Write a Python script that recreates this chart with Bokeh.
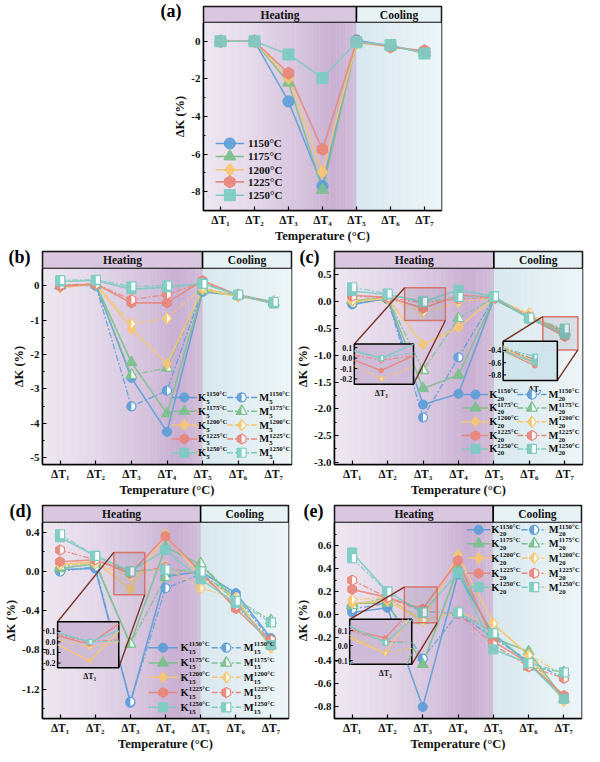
import numpy as np
from bokeh.plotting import figure
from bokeh.models import FixedTicker, Spacer, NumeralTickFormatter, Range1d
from bokeh.layouts import row, column
from bokeh.core.properties import value
from bokeh.embed import file_html
from bokeh.resources import INLINE

FONT = "Liberation Serif"

# ---------------- data ----------------
X = [1, 2, 3, 4, 5, 6, 7]
XLABELS = ["ΔT₁", "ΔT₂", "ΔT₃", "ΔT₄", "ΔT₅", "ΔT₆", "ΔT₇"]
TEMPS = ["1150°C", "1175°C", "1200°C", "1225°C", "1250°C"]

# (a)
a_1150 = [0.0, 0.0, -3.2, -7.7, 0.05, -0.25, -0.6]
a_1175 = [0.0, 0.0, -2.2, -7.9, -0.05, -0.25, -0.6]
a_1200 = [0.0, 0.0, -1.95, -6.95, -0.1, -0.25, -0.58]
a_1225 = [0.0, 0.0, -1.7, -5.75, 0.0, -0.3, -0.5]
a_1250 = [0.0, 0.0, -0.7, -1.95, -0.05, -0.2, -0.65]

# (b)  K5 / M5
b_K1150 = [0.0, 0.02, -2.68, -4.25, -0.18, -0.28, -0.5]
b_K1175 = [0.0, 0.03, -2.23, -3.72, -0.15, -0.28, -0.5]
b_K1200 = [-0.06, 0.05, -1.26, -2.28, -0.1, -0.32, -0.48]
b_K1225 = [-0.02, 0.05, -0.5, -0.5, 0.15, -0.28, -0.5]
b_K1250 = [0.12, 0.15, -0.1, -0.05, 0.07, -0.28, -0.52]
b_M1150 = [0.0, 0.0, -3.51, -3.05, -0.1, -0.28, -0.5]
b_M1175 = [0.0, 0.03, -2.6, -2.39, -0.12, -0.28, -0.48]
b_M1200 = [-0.03, 0.05, -1.11, -0.95, -0.05, -0.3, -0.45]
b_M1225 = [0.02, 0.05, -0.41, -0.25, 0.1, -0.26, -0.48]
b_M1250 = [0.16, 0.17, -0.02, 0.0, 0.05, -0.26, -0.47]

# (c)  K20 / M20
c_K1150 = [-0.05, 0.06, -1.92, -1.72, 0.05, -0.3, -0.6]
c_K1175 = [0.02, 0.07, -1.62, -1.37, 0.06, -0.3, -0.58]
c_K1200 = [0.0, 0.06, -0.8, -0.48, 0.07, -0.25, -0.62]
c_K1225 = [0.12, 0.08, -0.12, 0.12, 0.08, -0.3, -0.65]
c_K1250 = [0.2, 0.13, 0.0, 0.22, 0.1, -0.32, -0.6]
c_M1150 = [-0.03, 0.05, -2.16, -1.04, 0.07, -0.3, -0.55]
c_M1175 = [0.03, 0.07, -1.28, -0.31, 0.07, -0.28, -0.55]
c_M1200 = [0.02, 0.06, -0.2, 0.0, 0.06, -0.22, -0.58]
c_M1225 = [0.1, 0.08, -0.02, 0.05, 0.08, -0.28, -0.55]
c_M1250 = [0.27, 0.15, 0.0, 0.09, 0.1, -0.3, -0.5]

# (d)  K15 / M15
d_K1150 = [0.02, 0.03, -1.34, -0.05, 0.0, -0.22, -0.68]
d_K1175 = [0.03, 0.08, -0.74, 0.25, 0.07, -0.3, -0.75]
d_K1200 = [0.07, 0.1, -0.18, 0.38, -0.05, -0.27, -0.78]
d_K1225 = [0.1, 0.12, -0.02, 0.36, 0.0, -0.38, -0.72]
d_K1250 = [0.35, 0.16, 0.0, 0.22, -0.08, -0.32, -0.75]
d_M1150 = [0.0, 0.05, -1.33, -0.17, -0.03, -0.25, -0.7]
d_M1175 = [0.05, 0.1, -0.74, -0.06, 0.08, -0.28, -0.5]
d_M1200 = [0.07, 0.08, -0.05, 0.05, -0.17, -0.27, -0.75]
d_M1225 = [0.22, 0.12, 0.0, 0.04, -0.03, -0.35, -0.7]
d_M1250 = [0.38, 0.16, 0.0, 0.02, 0.0, -0.3, -0.52]

# (e)  K20 / M20
e_K1150 = [0.02, 0.06, -0.8, 0.35, -0.17, -0.42, -0.72]
e_K1175 = [0.1, 0.1, -0.43, 0.4, -0.2, -0.32, -0.73]
e_K1200 = [0.1, 0.12, -0.05, 0.52, -0.08, -0.35, -0.75]
e_K1225 = [0.22, 0.15, 0.05, 0.47, -0.23, -0.42, -0.7]
e_K1250 = [0.54, 0.2, 0.02, 0.36, -0.3, -0.42, -0.73]
e_M1150 = [0.05, 0.1, -0.38, 0.01, -0.2, -0.4, -0.55]
e_M1175 = [0.08, 0.15, -0.05, 0.02, -0.15, -0.45, -0.5]
e_M1200 = [0.13, 0.15, -0.05, 0.02, -0.08, -0.35, -0.52]
e_M1225 = [0.3, 0.15, 0.03, 0.01, -0.26, -0.45, -0.55]
e_M1250 = [0.49, 0.2, 0.02, 0.02, -0.16, -0.42, -0.5]

# ---------------- styles ----------------
COLORS = ["#5f9ed8", "#7cc08e", "#f6c772", "#e8877b", "#7dcbc3"]
MARKERS = ["circle", "triangle", "diamond", "hex", "square"]
HEAT_STOPS = [(0.5, "#eee7f1"), (2.0, "#e4d8e9"), (3.5, "#d4c1dc"), (4.3, "#c9afd2"), (5.0, "#d3bfda")]
COOL_STOPS = [(5.0, "#d8e8ef"), (7.5, "#edf5f7")]
HEAT_BAND = "#d8c7de"
COOL_BAND = "#e7f2f5"
DASH = "6 2 2 2"


def hx(c):
    return np.array([int(c[i:i + 2], 16) for i in (1, 3, 5)], dtype=float)


def interp(stops, t):
    for (p0, c0), (p1, c1) in zip(stops[:-1], stops[1:]):
        if p0 <= t <= p1:
            f = (t - p0) / (p1 - p0)
            c = hx(c0) * (1 - f) + hx(c1) * f
            return "#%02x%02x%02x" % tuple(int(round(v)) for v in c)
    return stops[-1][1] if t > stops[-1][0] else stops[0][1]


def shape(marker, s):
    r = s / 2.0
    if marker == "circle":
        t = np.linspace(0, 2 * np.pi, 25)[:-1]
        tl = np.linspace(np.pi / 2, 3 * np.pi / 2, 13)
        return (r * np.cos(t), r * np.sin(t)), (r * np.cos(tl), r * np.sin(tl))
    if marker == "triangle":
        h = r * np.sqrt(3)
        return (np.array([-r, r, 0]), np.array([-h / 3, -h / 3, 2 * h / 3])), \
               (np.array([0, -r, 0]), np.array([2 * h / 3, -h / 3, -h / 3]))
    if marker == "diamond":
        w = r * 0.8
        return (np.array([0, w, 0, -w]), np.array([r, 0, -r, 0])), \
               (np.array([0, -w, 0]), np.array([r, 0, -r]))
    if marker == "hex":
        r2 = r / 2.0
        h = np.sqrt(3) * r2
        return (np.array([0, h, h, 0, -h, -h]), np.array([r, r2, -r2, -r, -r2, r2])), \
               (np.array([0, -h, -h, 0]), np.array([r, r2, -r2, -r]))
    return (np.array([-r, r, r, -r]), np.array([-r, -r, r, r])), \
           (np.array([-r, 0, 0, -r]), np.array([-r, -r, r, r]))


def draw_marker(p, xs, ys, marker, size, color, half, dxpp, dypp):
    (fx, fy), (lx, ly) = shape(marker, size)
    FX = [list(x + fx * dxpp) for x in xs]
    FY = [list(y + fy * dypp) for y in ys]
    if half:
        LX = [list(x + lx * dxpp) for x in xs]
        LY = [list(y + ly * dypp) for y in ys]
        p.patches(FX, FY, fill_color="white", line_color=None)
        p.patches(LX, LY, fill_color=color, line_color=None, fill_alpha=0.95)
        p.patches(FX, FY, fill_color=None, line_color=color, line_width=1.2)
    else:
        p.patches(FX, FY, fill_color=color, fill_alpha=0.92, line_color=color, line_width=1.0)


def clip(x0, y0, x1, y1, xmin, xmax, ymin, ymax):
    dx, dy = x1 - x0, y1 - y0
    t0, t1 = 0.0, 1.0
    for pk, qk in ((-dx, x0 - xmin), (dx, xmax - x0), (-dy, y0 - ymin), (dy, ymax - y0)):
        if pk == 0:
            if qk < 0:
                return None
        else:
            t = qk / pk
            if pk < 0:
                if t > t1:
                    return None
                t0 = max(t0, t)
            else:
                if t < t0:
                    return None
                t1 = min(t1, t)
    return (x0 + t0 * dx, y0 + t0 * dy, x0 + t1 * dx, y0 + t1 * dy)


def txt(p, x, y, s, size, align="left", xo=0, yo=0, color="#111111"):
    p.text(x=[x], y=[y], text=[s], text_font=value(FONT), text_font_style="bold",
           text_font_size=size, text_align=align, text_baseline="middle",
           x_offset=xo, y_offset=yo, text_color=color)


def make_band(cfg):
    fw, band = cfg["fw"], cfg["band"]
    q = figure(frame_width=fw, frame_height=band, x_range=Range1d(0.5, 7.5), y_range=Range1d(0, 10),
               output_backend="svg", toolbar_location=None, x_axis_location=None,
               min_border_left=cfg["bl"], min_border_right=cfg["br"],
               min_border_top=cfg["bt"], min_border_bottom=0,
               background_fill_color="white", border_fill_color="white",
               outline_line_color="black", outline_line_width=1.5)
    q.grid.visible = False
    q.quad(left=[0.5, 5.0], right=[5.0, 7.5], bottom=[0, 0], top=[10, 10],
           fill_color=[HEAT_BAND, COOL_BAND], line_color="black", line_width=1.5)
    txt(q, 2.75, 5.0, "Heating", "11.5px", "center")
    txt(q, 6.25, 5.0, "Cooling", "11.5px", "center")
    # panel letter drawn as the only tick label of the strip's own axis
    ax = q.yaxis[0]
    ax.ticker = FixedTicker(ticks=[cfg["ptick"]])
    ax.major_label_overrides = {cfg["ptick"]: cfg["name"]}
    ax.axis_line_color = None
    ax.major_tick_line_color = None
    ax.minor_tick_line_color = None
    ax.major_label_text_font = FONT
    ax.major_label_text_font_style = "bold"
    ax.major_label_text_font_size = "18px"
    ax.major_label_text_color = "black"
    ax.major_label_standoff = cfg["pstand"]
    return q


def make_panel(cfg):
    fw, fh, band = cfg["fw"], cfg["fh"], cfg["band"]
    ylo, yhi = cfg["ylim"]
    p = figure(frame_width=fw, frame_height=fh, x_range=Range1d(0.5, 7.5), y_range=Range1d(ylo, yhi),
               output_backend="svg", toolbar_location=None,
               min_border_left=cfg["bl"], min_border_right=cfg["br"],
               min_border_top=0, min_border_bottom=cfg["bb"],
               background_fill_color="white", border_fill_color="white",
               outline_line_color="black", outline_line_width=1.5)
    p.grid.visible = False
    dxpp = 7.0 / fw
    dypp = (yhi - ylo) / fh
    ytop = yhi + band * dypp          # virtual top of the heating/cooling band
    sx = fw / cfg["ref_fw"]
    sy = (fh + band) / cfg["ref_fh"]

    def PX(px):
        return 0.5 + px * sx * dxpp

    def PY(py):
        return ytop - py * sy * dypp

    # background gradients
    n = 45
    e = np.linspace(0.5, 5.0, n + 1)
    p.quad(left=e[:-1], right=e[1:] + 0.012, bottom=ylo, top=yhi,
           fill_color=[interp(HEAT_STOPS, (a + b) / 2) for a, b in zip(e[:-1], e[1:])], line_color=None)
    e = np.linspace(5.0, 7.5, 26)
    p.quad(left=e[:-1], right=e[1:] + 0.012, bottom=ylo, top=yhi,
           fill_color=[interp(COOL_STOPS, (a + b) / 2) for a, b in zip(e[:-1], e[1:])], line_color=None)

    series = cfg["series"]
    ms = cfg["msize"]
    for vals, kind, ci in series:
        p.line(X, vals, line_color=COLORS[ci], line_width=1.6 if kind == "K" else 1.3,
               line_alpha=0.9, line_dash="solid" if kind == "K" else DASH)
    for vals, kind, ci in series:
        draw_marker(p, X, vals, MARKERS[ci], ms[ci], COLORS[ci], kind == "M", dxpp, dypp)

    # insets
    for ins in cfg.get("insets", []):
        mx0, mx1, my0, my1 = ins["main"]
        bx0, bx1, by0, by1 = ins["box"]
        vx0, vx1, vy0, vy1 = ins["view"]
        p.quad(left=[mx0], right=[mx1], bottom=[my0], top=[my1], fill_color="#5a5870", fill_alpha=0.13,
               line_color="#d8736b", line_width=1.5)
        p.segment(x0=[mx0, mx1], y0=[my1, my0], x1=[bx0, bx1], y1=[by1, by0],
                  line_color="#7b3328", line_width=1.4)
        p.quad(left=[bx0], right=[bx1], bottom=[by0], top=[by1], fill_color=ins["bg"], fill_alpha=0.96,
               line_color="black", line_width=1.5)

        def mapx(x):
            return bx0 + (x - vx0) / (vx1 - vx0) * (bx1 - bx0)

        def mapy(y):
            return by0 + (y - vy0) / (vy1 - vy0) * (by1 - by0)

        for vals, kind, ci in series:
            SX, SY = [], []
            for j in range(6):
                c = clip(X[j], vals[j], X[j + 1], vals[j + 1], vx0, vx1, vy0, vy1)
                if c:
                    SX.append([mapx(c[0]), mapx(c[2])])
                    SY.append([mapy(c[1]), mapy(c[3])])
            if SX:
                p.multi_line(SX, SY, line_color=COLORS[ci], line_width=1.3 if kind == "K" else 1.1,
                             line_dash="solid" if kind == "K" else DASH)
        for vals, kind, ci in series:
            px_, py_ = [], []
            for xv, yv in zip(X, vals):
                if vx0 < xv < vx1 and vy0 < yv < vy1:
                    px_.append(mapx(xv))
                    py_.append(mapy(yv))
            if px_:
                draw_marker(p, px_, py_, MARKERS[ci], 5, COLORS[ci], kind == "M", dxpp, dypp)
        for tv, tl in zip(ins["ticks"], ins["tlabels"]):
            txt(p, bx0 - 2 * dxpp, mapy(tv), tl, "8px", "right")
        p.segment(x0=[bx0] * len(ins["ticks"]), x1=[bx0 + 3 * dxpp] * len(ins["ticks"]),
                  y0=[mapy(t) for t in ins["ticks"]], y1=[mapy(t) for t in ins["ticks"]],
                  line_color="black", line_width=1)
        txt(p, mapx(ins["lx"]), by0 - 9 * dypp, ins["label"], "8px", "center")

    # legend
    lg = cfg["legend"]
    if lg["kind"] == "single":
        for i in range(5):
            y = PY(lg["rows"][i])
            p.line([PX(lg["line"][0]), PX(lg["line"][1])], [y, y], line_color=COLORS[i], line_width=1.6)
            draw_marker(p, [PX(lg["mk"])], [y], MARKERS[i], ms[i], COLORS[i], False, dxpp, dypp)
            txt(p, PX(lg["txt"]), y, TEMPS[i], "11px")
    else:
        for i in range(5):
            y = PY(lg["rows"][i])
            for kind, letter_w in (("K", 8.2), ("M", 10.0)):
                l0, l1 = lg[kind + "line"]
                p.line([PX(l0), PX(l1)], [y, y], line_color=COLORS[i], line_width=1.5,
                       line_dash="solid" if kind == "K" else DASH)
                draw_marker(p, [PX(lg[kind + "mk"])], [y], MARKERS[i], ms[i], COLORS[i], kind == "M", dxpp, dypp)
                tx = PX(lg[kind + "txt"])
                txt(p, tx, y, kind, "10.5px")
                txt(p, tx, y, lg["sub"], "6.8px", xo=letter_w, yo=4.5)
                txt(p, tx, y, TEMPS[i], "6.8px", xo=letter_w, yo=-3.8)

    # axes
    p.xaxis.ticker = FixedTicker(ticks=X)
    p.xaxis.major_label_overrides = {x: lab for x, lab in zip(X, XLABELS)}
    p.yaxis.ticker = FixedTicker(ticks=cfg["yticks"], minor_ticks=cfg["yminor"])
    p.yaxis.formatter = NumeralTickFormatter(format=cfg["fmt"])
    p.xaxis.axis_label = "Temperature (°C)"
    p.yaxis.axis_label = "ΔK (%)"
    for ax in (p.xaxis, p.yaxis):
        ax.axis_line_width = 1.5
        ax.axis_line_color = "black"
        ax.major_tick_in = 4
        ax.major_tick_out = 0
        ax.minor_tick_in = 2
        ax.minor_tick_out = 0
        ax.major_tick_line_width = 1.2
        ax.major_label_text_font = FONT
        ax.major_label_text_font_style = "bold"
        ax.major_label_text_color = "#111111"
        ax.axis_label_text_font = FONT
        ax.axis_label_text_font_style = "bold"
        ax.axis_label_text_font_size = "12.5px"
        ax.axis_label_text_color = "#111111"
        ax.major_label_standoff = 3
        ax.axis_label_standoff = 1
    p.xaxis.major_label_text_font_size = "11.5px"
    p.yaxis.major_label_text_font_size = "11px"
    p.xaxis.major_label_standoff = 3
    p.xaxis.axis_label_standoff = 0
    return column(make_band(cfg), p)


def group(K, M):
    out = []
    for i in range(5):
        out.append((K[i], "K", i))
        out.append((M[i], "M", i))
    return out


MS = [9, 11, 11, 10, 9]
PURPLE_IN = "#cdb9d5"
BLUE_IN = "#cfe3ea"

cfg_a = dict(name="(a)", fw=238, fh=188, band=16, ylim=(-9.0, 1.0), yticks=[0, -2, -4, -6, -8],
             yminor=[-1, -3, -5, -7], fmt="0", bl=50, br=143, bt=6, bb=33, ref_fw=244.1, ref_fh=214,
             pstand=16, ptick=7, msize=[11, 12, 13, 12, 11],
             series=[(a_1150, "K", 0), (a_1175, "K", 1), (a_1200, "K", 2), (a_1225, "K", 3), (a_1250, "K", 4)],
             legend=dict(kind="single", rows=[143.7, 157.3, 171.3, 184, 198], line=(12.4, 41.7), mk=27, txt=45.7))

cfg_b = dict(name="(b)", fw=249, fh=196, band=17, ylim=(-5.2, 0.5), yticks=[0, -1, -2, -3, -4, -5],
             yminor=[-0.5, -1.5, -2.5, -3.5, -4.5], fmt="0", bl=42, br=2, bt=6, bb=32,
             ref_fw=256.3, ref_fh=223.3, pstand=6, ptick=7, msize=MS,
             series=group([b_K1150, b_K1175, b_K1200, b_K1225, b_K1250],
                          [b_M1150, b_M1175, b_M1200, b_M1225, b_M1250]),
             legend=dict(kind="double", sub="5", rows=[153, 167.5, 182, 196.5, 211],
                         Kline=(133, 159), Kmk=146, Ktxt=160, Mline=(190, 221), Mmk=205, Mtxt=223))

cfg_c = dict(name="(c)", fw=248, fh=196, band=17, ylim=(-3.04, 0.62),
             yticks=[0.5, 0, -0.5, -1.0, -1.5, -2.0, -2.5, -3.0],
             yminor=[0.25, -0.25, -0.75, -1.25, -1.75, -2.25, -2.75], fmt="0.0", bl=40, br=4, bt=6, bb=32,
             ref_fw=255, ref_fh=223.3, pstand=9, ptick=7, msize=MS,
             series=group([c_K1150, c_K1175, c_K1200, c_K1225, c_K1250],
                          [c_M1150, c_M1175, c_M1200, c_M1225, c_M1250]),
             legend=dict(kind="double", sub="20", rows=[150, 164, 178.5, 193, 207],
                         Kline=(131, 158), Kmk=145, Ktxt=159, Mline=(188, 218), Mmk=203, Mtxt=220),
             insets=[dict(main=(2.48, 3.63, -0.35, 0.26), box=(1.06, 2.73, -1.54, -0.79),
                          view=(2.5, 3.6, -0.25, 0.135), ticks=[0.1, 0.0, -0.1, -0.2],
                          tlabels=["0.1", "0.0", "-0.1", "-0.2"], label="ΔT₃", lx=3, bg=PURPLE_IN),
                     dict(main=(6.38, 7.37, -0.9, -0.28), box=(5.26, 6.79, -1.47, -0.74),
                          view=(6.3, 7.5, -0.89, -0.25), ticks=[-0.4, -0.6, -0.8],
                          tlabels=["-0.4", "-0.6", "-0.8"], label="ΔT₇", lx=7, bg=BLUE_IN)])

cfg_d = dict(name="(d)", fw=246, fh=196, band=17, ylim=(-1.5, 0.5), yticks=[0.4, 0.0, -0.4, -0.8, -1.2],
             yminor=[0.2, -0.2, -0.6, -1.0, -1.4], fmt="0.0", bl=42, br=5, bt=6, bb=32,
             ref_fw=253, ref_fh=223.2, pstand=5, ptick=7, msize=MS,
             series=group([d_K1150, d_K1175, d_K1200, d_K1225, d_K1250],
                          [d_M1150, d_M1175, d_M1200, d_M1225, d_M1250]),
             legend=dict(kind="double", sub="15", rows=[149, 165, 180, 196, 211.5],
                         Kline=(109, 139), Kmk=124, Ktxt=142, Mline=(174, 204), Mmk=189, Mtxt=207),
             insets=[dict(main=(2.53, 3.41, -0.236, 0.195), box=(0.93, 2.67, -0.983, -0.513),
                          view=(2.45, 3.5, -0.245, 0.19), ticks=[0.1, 0.0, -0.1, -0.2],
                          tlabels=["0.1", "0.0", "-0.1", "-0.2"], label="ΔT₃", lx=3, bg=PURPLE_IN)])

cfg_e = dict(name="(e)", fw=247, fh=196, band=17, ylim=(-0.9, 0.8),
             yticks=[0.6, 0.4, 0.2, 0.0, -0.2, -0.4, -0.6, -0.8],
             yminor=[0.7, 0.5, 0.3, 0.1, -0.1, -0.3, -0.5, -0.7], fmt="0.0", bl=39, br=5, bt=6, bb=32,
             ref_fw=253.6, ref_fh=223, pstand=5, ptick=7, msize=MS,
             series=group([e_K1150, e_K1175, e_K1200, e_K1225, e_K1250],
                          [e_M1150, e_M1175, e_M1200, e_M1225, e_M1250]),
             legend=dict(kind="double", sub="20", rows=[25.5, 40, 55, 71, 85.5],
                         Kline=(136, 160), Kmk=148, Ktxt=161, Mline=(192, 217), Mmk=205, Mtxt=220),
             insets=[dict(main=(2.48, 3.41, -0.07, 0.24), box=(0.93, 2.69, -0.43, -0.04),
                          view=(2.4, 3.45, -0.125, 0.175), ticks=[0.1, 0.0, -0.1],
                          tlabels=["0.1", "0.0", "-0.1"], label="ΔT₃", lx=3, bg=PURPLE_IN)])

pa = make_panel(cfg_a)
pb = make_panel(cfg_b)
pc = make_panel(cfg_c)
pd = make_panel(cfg_d)
pe = make_panel(cfg_e)

layout = column(row(Spacer(width=153, height=240), pa), row(pb, pc), row(pd, pe))
open("out.html", "w").write(file_html(layout, INLINE))
